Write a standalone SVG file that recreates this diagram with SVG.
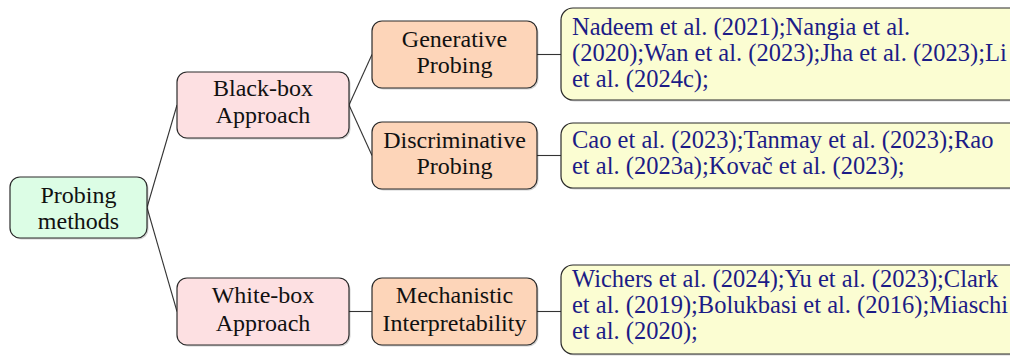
<svg xmlns="http://www.w3.org/2000/svg" width="1010" height="356" viewBox="0 0 1010 356">
<style>
.box{stroke:#2b2b2b;stroke-width:1.2}
.sh{fill:#000;opacity:0.18}
.root{fill:#dcfde5}
.l1{fill:#fde0e2}
.l2{fill:#fdd5b9}
.leaf{fill:#fbfdd2}
.lbl{font-family:"Liberation Serif","Times New Roman",serif;font-size:24px;fill:#111;text-anchor:middle}
.cit{font-family:"Liberation Serif","Times New Roman",serif;font-size:24.5px;fill:#1c1c86}
.edge{stroke:#333;stroke-width:1.1;fill:none}
</style>
<g id="connectors">
<line class="edge" x1="147" y1="207.5" x2="177" y2="105"/>
<line class="edge" x1="147" y1="207.5" x2="177" y2="311.5"/>
<line class="edge" x1="349" y1="105" x2="372" y2="54.5"/>
<line class="edge" x1="349" y1="105" x2="372" y2="155.5"/>
<line class="edge" x1="349" y1="311.5" x2="372" y2="311.5"/>
<line class="edge" x1="537" y1="54.5" x2="561" y2="54.5"/>
<line class="edge" x1="537" y1="155.5" x2="561" y2="155.5"/>
<line class="edge" x1="537" y1="311.5" x2="561" y2="311.5"/>
</g>
<g id="root">
<rect class="sh" x="11.5" y="178.5" width="137" height="61" rx="10"/>
<rect class="box root" x="10" y="177" width="137" height="61" rx="10"/>
<text class="lbl" x="78.5" y="203">Probing</text>
<text class="lbl" x="78.5" y="229">methods</text>
</g>
<g id="blackbox">
<rect class="sh" x="178.5" y="73.5" width="172" height="66" rx="10"/>
<rect class="box l1" x="177" y="72" width="172" height="66" rx="10"/>
<text class="lbl" x="263" y="96">Black-box</text>
<text class="lbl" x="263" y="123">Approach</text>
</g>
<g id="whitebox">
<rect class="sh" x="178.5" y="279.5" width="172" height="67" rx="10"/>
<rect class="box l1" x="177" y="278" width="172" height="67" rx="10"/>
<text class="lbl" x="263" y="303">White-box</text>
<text class="lbl" x="263" y="331">Approach</text>
</g>
<g id="generative">
<rect class="sh" x="373.5" y="22.5" width="165" height="67" rx="10"/>
<rect class="box l2" x="372" y="21" width="165" height="67" rx="10"/>
<text class="lbl" x="454.5" y="47">Generative</text>
<text class="lbl" x="454.5" y="73">Probing</text>
</g>
<g id="discriminative">
<rect class="sh" x="373.5" y="123.5" width="165" height="67" rx="10"/>
<rect class="box l2" x="372" y="122" width="165" height="67" rx="10"/>
<text class="lbl" x="454.5" y="148">Discriminative</text>
<text class="lbl" x="454.5" y="174">Probing</text>
</g>
<g id="mechanistic">
<rect class="sh" x="373.5" y="279.5" width="165" height="67" rx="10"/>
<rect class="box l2" x="372" y="278" width="165" height="67" rx="10"/>
<text class="lbl" x="454.5" y="303">Mechanistic</text>
<text class="lbl" x="454.5" y="331">Interpretability</text>
</g>
<g id="leaf-generative">
<rect class="sh" x="562.5" y="9.5" width="480" height="92" rx="12"/>
<rect class="box leaf" x="561" y="8" width="480" height="92" rx="12"/>
<text class="cit" x="572" y="35">Nadeem et al. (2021);Nangia et al.</text>
<text class="cit" x="572" y="61">(2020);Wan et al. (2023);Jha et al. (2023);Li</text>
<text class="cit" x="572" y="87">et al. (2024c);</text>
</g>
<g id="leaf-discriminative">
<rect class="sh" x="562.5" y="124.5" width="480" height="65" rx="12"/>
<rect class="box leaf" x="561" y="123" width="480" height="65" rx="12"/>
<text class="cit" x="572" y="148">Cao et al. (2023);Tanmay et al. (2023);Rao</text>
<text class="cit" x="572" y="174">et al. (2023a);Kovač et al. (2023);</text>
</g>
<g id="leaf-mechanistic">
<rect class="sh" x="562.5" y="266.5" width="480" height="89" rx="12"/>
<rect class="box leaf" x="561" y="265" width="480" height="89" rx="12"/>
<text class="cit" x="572" y="287">Wichers et al. (2024);Yu et al. (2023);Clark</text>
<text class="cit" x="572" y="313">et al. (2019);Bolukbasi et al. (2016);Miaschi</text>
<text class="cit" x="572" y="339">et al. (2020);</text>
</g>
</svg>
